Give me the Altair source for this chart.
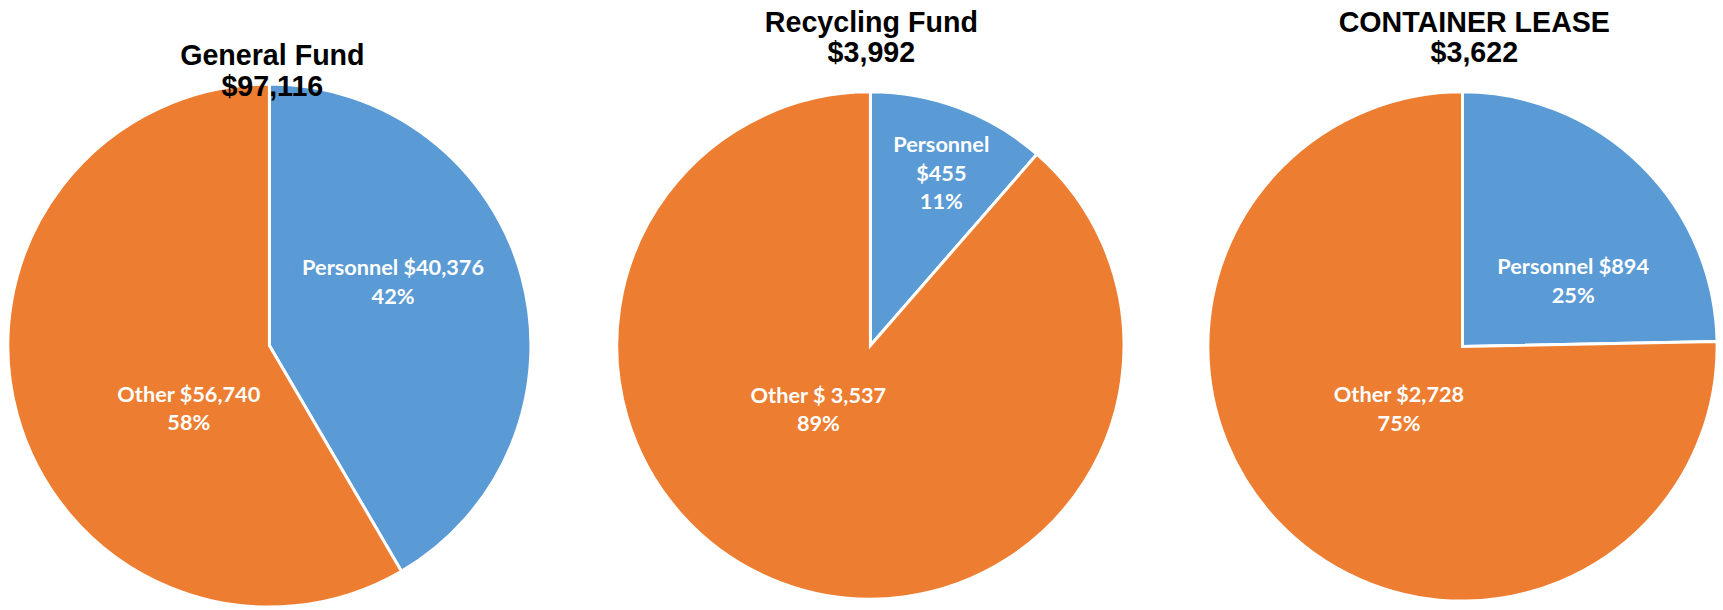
import altair as alt
import pandas as pd

# ---- data ----
funds = ["General Fund", "Recycling Fund", "CONTAINER LEASE"]
fund_totals = ["$97,116", "$3,992", "$3,622"]
categories = ["Personnel", "Other"]
personnel = [40376, 455, 894]
other = [56740, 3537, 2728]
personnel_labels = ["Personnel $40,376\n42%", "Personnel\n$455\n11%", "Personnel $894\n25%"]
other_labels = ["Other $56,740\n58%", "Other $ 3,537\n89%", "Other $2,728\n75%"]

# ---- styling / layout ----
colors = ["#5B9BD5", "#ED7D31"]
panel_widths = [546, 672, 478]
center_y = [346, 346, 347]
radii = [265, 257, 258]
title_dx = [3, 1, 12]
title_y = [53, 19, 19]
label_style = [
    {"Personnel": dict(radius=134, dx=-4, dy=-43), "Other": dict(radius=96, dx=11, dy=25)},
    {"Personnel": dict(radius=188, dx=6, dy=-27), "Other": dict(radius=79, dx=-25, dy=-23)},
    {"Personnel": dict(radius=126, dx=24, dy=10), "Other": dict(radius=89, dx=-2, dy=-14)},
]
LABEL_FONT = "Lato"
TITLE_FONT = "Liberation Sans"


def panel(i):
    df = pd.DataFrame({
        "category": categories,
        "value": [personnel[i], other[i]],
        "order": [0, 1],
        "label": [personnel_labels[i], other_labels[i]],
    })
    w = panel_widths[i]
    base = alt.Chart(df).encode(
        theta=alt.Theta("value:Q", stack=True),
        order=alt.Order("order:Q"),
        detail="category:N",
        y=alt.value(center_y[i]),
        x=alt.value(w / 2),
    )
    arcs = base.mark_arc(radius=radii[i], stroke="white", strokeWidth=3).encode(
        color=alt.Color("category:N",
                        scale=alt.Scale(domain=categories, range=colors),
                        legend=None),
    )
    layers = [arcs]
    for cat in categories:
        st = label_style[i][cat]
        layers.append(
            base.mark_text(
                radius=st["radius"], dx=st["dx"], dy=st["dy"],
                font=LABEL_FONT, fontSize=22, fontWeight="bold",
                color="white", lineBreak="\n", lineHeight=29,
                align="center", baseline="middle",
            ).encode(
                text=alt.condition(f"datum.category == '{cat}'",
                                   "label:N", alt.value("")),
            )
        )
    tdf = pd.DataFrame({"t": [funds[i] + "\n" + fund_totals[i]]})
    title = alt.Chart(tdf).mark_text(
        font=TITLE_FONT, fontSize=29, fontWeight="bold", color="black",
        lineBreak="\n", lineHeight=31, align="center", baseline="middle",
    ).encode(
        text="t:N",
        x=alt.value(w / 2 + title_dx[i]),
        y=alt.value(title_y[i]),
    )
    layers.append(title)
    return alt.layer(*layers).properties(width=w, height=610)


chart = alt.hconcat(*[panel(i) for i in range(3)], spacing=0, padding=0
                    ).configure(background="white").configure_view(stroke=None)

chart.save("out.html", embed_options={"renderer": "svg", "actions": False})
